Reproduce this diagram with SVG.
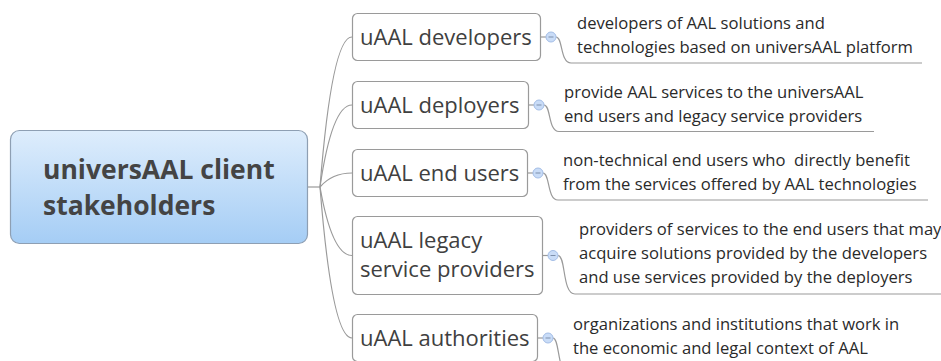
<svg xmlns="http://www.w3.org/2000/svg" width="941" height="361" viewBox="0 0 941 361">
<defs>
<linearGradient id="rootGrad" x1="0" y1="0" x2="0" y2="1">
<stop offset="0" stop-color="#deedfc"/>
<stop offset="1" stop-color="#a5cdf5"/>
</linearGradient>
<style>
.root{fill:url(#rootGrad);stroke:#8e9fb3;stroke-width:1.2}
.rootText{font-family:"Open Sans","DejaVu Sans",sans-serif;font-weight:bold;font-size:26.5px;fill:#444}
.node{fill:#fff;stroke:#9a9a9a;stroke-width:1.2}
.nodeText{font-family:"Open Sans","DejaVu Sans",sans-serif;font-size:22px;fill:#404040}
.desc{font-family:"Open Sans","DejaVu Sans",sans-serif;font-size:16.6px;fill:#2a2a2a}
.conn{fill:none;stroke:#9a9a9a;stroke-width:1.2}
.toggle{fill:#c9dcf7;stroke:#a3bde6;stroke-width:1}
.minus{stroke:#7d8fab;stroke-width:1}
</style>
</defs>
<rect width="941" height="361" fill="#fff"/>
<g id="connectors">
<path class="conn" d="M307,187 L320,187"/>
<path class="conn" d="M320,187 Q332,37 352,37"/>
<path class="conn" d="M320,187 Q332,105 352,105"/>
<path class="conn" d="M320,187 Q332,173 352,173"/>
<path class="conn" d="M320,187 Q332,255.5 352,255.5"/>
<path class="conn" d="M320,187 Q332,338 352,338"/>
<path class="conn" d="M541,37 L546,37"/>
<path class="conn" d="M529,105 L534,105"/>
<path class="conn" d="M528,173 L533,173"/>
<path class="conn" d="M543,255.5 L548,255.5"/>
<path class="conn" d="M538,338 L543,338"/>
<path class="conn" d="M556,37 C563,37 560,63 571,63 L922,63"/>
<path class="conn" d="M544,105 C551,105 548,131.5 559,131.5 L874,131.5"/>
<path class="conn" d="M543,173 C550,173 547,200 558,200 L928,200"/>
<path class="conn" d="M558,255.5 C566,255.5 562,294 575,294 L941,294"/>
<path class="conn" d="M553,338 C560,338 557,376 570,376 L941,376"/>
</g>
<g id="root">
<rect class="root" x="10.5" y="130.5" width="297" height="113" rx="9"/>
<text class="rootText" x="43" y="179">universAAL client</text>
<text class="rootText" x="43" y="215">stakeholders</text>
</g>
<g id="node-developers">
<rect class="node" x="352.5" y="13.5" width="188" height="47" rx="5"/>
<text class="nodeText" x="360" y="45">uAAL developers</text>
<circle class="toggle" cx="551" cy="37" r="5"/>
<path class="minus" d="M548.5,37 L553.5,37"/>
<text class="desc" x="577" y="29">developers of AAL solutions and</text>
<text class="desc" x="577" y="53">technologies based on universAAL platform</text>
</g>
<g id="node-deployers">
<rect class="node" x="352.5" y="81.5" width="176" height="47" rx="5"/>
<text class="nodeText" x="360" y="113">uAAL deployers</text>
<circle class="toggle" cx="539" cy="105" r="5"/>
<path class="minus" d="M536.5,105 L541.5,105"/>
<text class="desc" x="564" y="97.5">provide AAL services to the universAAL</text>
<text class="desc" x="564" y="121.5">end users and legacy service providers</text>
</g>
<g id="node-end-users">
<rect class="node" x="352.5" y="149.5" width="175" height="47" rx="5"/>
<text class="nodeText" x="360" y="181">uAAL end users</text>
<circle class="toggle" cx="538" cy="173" r="5"/>
<path class="minus" d="M535.5,173 L540.5,173"/>
<text class="desc" x="563" y="166" xml:space="preserve">non-technical end users who  directly benefit</text>
<text class="desc" x="563" y="190">from the services offered by AAL technologies</text>
</g>
<g id="node-legacy">
<rect class="node" x="352.5" y="216.5" width="190" height="78" rx="5"/>
<text class="nodeText" x="360" y="248">uAAL legacy</text>
<text class="nodeText" x="360" y="277">service providers</text>
<circle class="toggle" cx="553" cy="255.5" r="5"/>
<path class="minus" d="M550.5,255.5 L555.5,255.5"/>
<text class="desc" x="579" y="235">providers of services to the end users that may</text>
<text class="desc" x="579" y="259">acquire solutions provided by the developers</text>
<text class="desc" x="579" y="283">and use services provided by the deployers</text>
</g>
<g id="node-authorities">
<rect class="node" x="352.5" y="314.5" width="185" height="47" rx="5"/>
<text class="nodeText" x="360" y="346">uAAL authorities</text>
<circle class="toggle" cx="548" cy="338" r="5"/>
<path class="minus" d="M545.5,338 L550.5,338"/>
<text class="desc" x="573" y="330">organizations and institutions that work in</text>
<text class="desc" x="573" y="354">the economic and legal context of AAL</text>
</g>
</svg>
